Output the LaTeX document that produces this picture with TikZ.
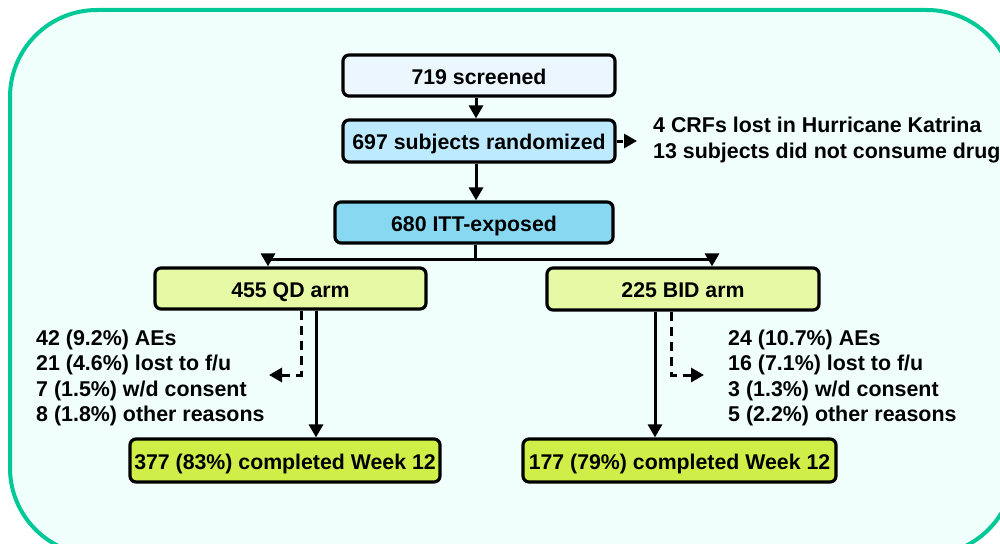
\documentclass[tikz,border=0pt]{standalone}
\usepackage{fontspec}
\setmainfont{Liberation Sans}
\usetikzlibrary{arrows.meta}
\definecolor{frame}{RGB}{0,200,150}
\definecolor{bg}{RGB}{240,255,252}
\definecolor{cscr}{RGB}{235,246,255}
\definecolor{crand}{RGB}{190,234,255}
\definecolor{citt}{RGB}{135,216,240}
\definecolor{carm}{RGB}{230,250,165}
\definecolor{cdone}{RGB}{208,238,72}
\begin{document}
\begin{tikzpicture}[x=1pt,y=-1pt,
 box/.style={draw=black, line width=3.2pt, rounded corners=6pt, inner sep=0pt, text height=17pt, text depth=0pt, font=\fontsize{21.3}{25}\selectfont\bfseries},
 arr/.style={line width=3pt, -{Triangle[width=14pt,length=13pt]}},
 darr/.style={arr, dash pattern=on 9pt off 6pt},
 lab/.style={align=left, anchor=west, inner sep=0pt, font=\fontsize{21.4}{25.5}\selectfont\bfseries}]
\useasboundingbox (0,0) rectangle (1000,543);
\clip (0,0) rectangle (1000,543);
\draw[draw=frame, fill=bg, line width=4pt, rounded corners=87pt] (10,10) rectangle (1014,555);

\node[box, fill=cscr, minimum width=272pt, minimum height=41pt] (scr) at (479,75.5) {719 screened};
\node[box, fill=crand, minimum width=272pt, minimum height=42pt] (rand) at (479,141) {697 subjects randomized};
\node[box, fill=citt, minimum width=278pt, minimum height=41pt] (itt) at (474,222.5) {680 ITT-exposed};
\node[box, fill=carm, minimum width=271pt, minimum height=41pt] (qd) at (290.5,288.5) {455 QD arm};
\node[box, fill=carm, minimum width=272pt, minimum height=42pt] (bid) at (683,289) {225 BID arm};
\node[box, fill=cdone, minimum width=310pt, minimum height=43pt] (c1) at (285,460.5) {377 (83\%) completed Week 12};
\node[box, fill=cdone, minimum width=313pt, minimum height=43pt] (c2) at (679.5,460.5) {177 (79\%) completed Week 12};

\node[lab] (excl) at (653,140) {4 CRFs lost in Hurricane Katrina\\13 subjects did not consume drug};
\node[lab] (dq) at (36,378) {42 (9.2\%) AEs\\21 (4.6\%) lost to f/u\\7 (1.5\%) w/d consent\\8 (1.8\%) other reasons};
\node[lab] (db) at (728,378) {24 (10.7\%) AEs\\16 (7.1\%) lost to f/u\\3 (1.3\%) w/d consent\\5 (2.2\%) other reasons};

\coordinate (bl) at (268,259);
\coordinate (br) at (712,259);
\coordinate (ql) at (269,375);
\coordinate (bq) at (704,375);
\coordinate (ex) at (637,141);

\draw[arr] (scr.south -| 476,0) -- (rand.north -| 476,0);
\draw[arr] (rand.south -| 476,0) -- (itt.north -| 476,0);
\draw[line width=3pt] (itt.south -| 475,0) -- (475,259);
\draw[line width=3pt] (bl) -- (br);
\draw[arr] (bl) -- (bl |- qd.north);
\draw[arr] (br) -- (br |- bid.north);
\draw[arr] (qd.south -| 316,0) -- (c1.north -| 316,0);
\draw[arr] (bid.south -| 655,0) -- (c2.north -| 655,0);
\draw[darr] (qd.south -| 301,0) -- (301,375) -- (ql);
\draw[darr] (bid.south -| 671,0) -- (671,375) -- (bq);
\draw[arr, dash pattern=on 6pt off 5pt] (rand.east) -- (ex);
\end{tikzpicture}
\end{document}
